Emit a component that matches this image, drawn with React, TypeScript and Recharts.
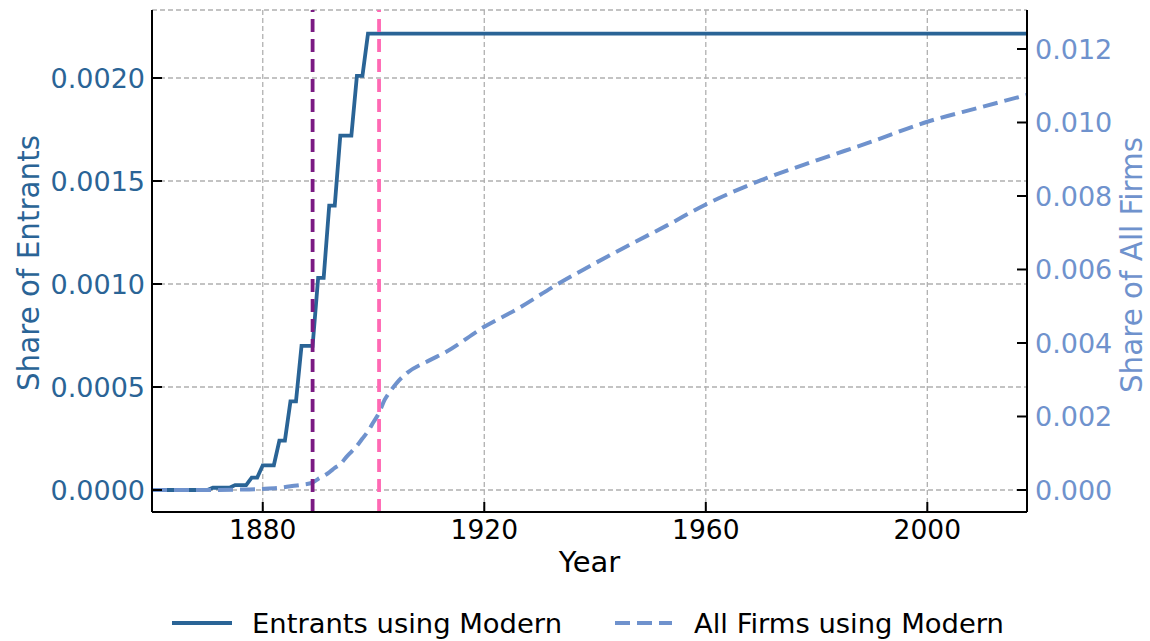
import { CartesianGrid, Legend, Line, LineChart, ReferenceLine, XAxis, YAxis } from "recharts";

const FONT = "DejaVu Sans, sans-serif";
const ENTRANT_COLOR = "#2a6496";
const FIRM_COLOR = "#6f92cd";

// step curve corners for entrants using modern
const ENTRANT_YEARS = [1860, 1870, 1871, 1874, 1875, 1877, 1878, 1879, 1880, 1882, 1883, 1884, 1885, 1886, 1887, 1889, 1890, 1891, 1892, 1893, 1894, 1896, 1897, 1898, 1899, 2018];
const ENTRANT_SHARE = [0, 0, 0.000011, 0.000011, 0.000024, 0.000024, 0.00006, 0.00006, 0.00012, 0.00012, 0.00024, 0.00024, 0.00043, 0.00043, 0.0007, 0.0007, 0.00103, 0.00103, 0.00138, 0.00138, 0.00172, 0.00172, 0.00201, 0.00201, 0.002215, 0.002215];

const FIRM_YEARS = [1860, 1870, 1875, 1880, 1883, 1885, 1887, 1889, 1890, 1891, 1892, 1893, 1894, 1895, 1896, 1897, 1898, 1899, 1900, 1901, 1902, 1903, 1904, 1906, 1910, 1913, 1920, 1926, 1933, 1940, 1947, 1953, 1960, 1970, 1980, 1990, 2000, 2009, 2018];
const FIRM_SHARE = [0, 0, 0.00001, 0.00003, 0.00006, 0.0001, 0.00014, 0.0002, 0.0003, 0.00038, 0.00048, 0.0006, 0.0007, 0.00088, 0.00104, 0.0012, 0.0014, 0.0016, 0.00185, 0.0021, 0.00245, 0.00268, 0.00288, 0.00318, 0.00352, 0.00375, 0.00444, 0.00493, 0.00558, 0.00617, 0.00673, 0.0072, 0.00777, 0.00843, 0.00897, 0.00948, 0.01002, 0.01039, 0.01075];

const X_TICKS = [1880, 1920, 1960, 2000];
const LEFT_TICKS = [0, 0.0005, 0.001, 0.0015, 0.002];
const RIGHT_TICKS = [0, 0.002, 0.004, 0.006, 0.008, 0.01, 0.012];
const EVENT_YEARS = [1889, 1901];
const EVENT_COLORS = ["#7b1a83", "#ff69b4"];

const entrants = ENTRANT_YEARS.map((year, i) => ({ year, share: ENTRANT_SHARE[i] }));
const firms = FIRM_YEARS.map((year, i) => ({ year, share: FIRM_SHARE[i] }));

function LegendBox() {
  return (
    <svg width={1150} height={50} style={{ display: "block" }}>
      <line x1={172} x2={232} y1={32} y2={32} stroke={ENTRANT_COLOR} strokeWidth={4} />
      <text x={252} y={42} fontSize={27.4} fontFamily={FONT} fill="#000">
        Entrants using Modern
      </text>
      <line x1={615} x2={672} y1={32} y2={32} stroke={FIRM_COLOR} strokeWidth={4} strokeDasharray="15 7" />
      <text x={694} y={42} fontSize={27.4} fontFamily={FONT} fill="#000">
        All Firms using Modern
      </text>
    </svg>
  );
}

export default function App() {
  return (
    <div style={{ position: "absolute", left: 0, top: 0, fontFamily: FONT }}>
      <LineChart width={1150} height={641} margin={{ top: 10, right: 0, bottom: 0, left: 0 }}>
        <CartesianGrid
          xAxisId="x"
          yAxisId="left"
          stroke="#b0b0b0"
          strokeWidth={1.3}
          strokeDasharray="5 3"
        />
        <XAxis
          xAxisId="x"
          dataKey="year"
          type="number"
          domain={[1860, 2018]}
          ticks={X_TICKS}
          allowDataOverflow
          height={79}
          tickSize={-10}
          tickMargin={18}
          axisLine={{ stroke: "#000", strokeWidth: 2 }}
          tickLine={{ stroke: "#000", strokeWidth: 2 }}
          tick={{ fill: "#000", fontSize: 26.5, fontFamily: FONT }}
          label={{
            content: (p: any) => (
              <text x={p.viewBox.x + p.viewBox.width / 2} y={572} textAnchor="middle" fontSize={29} fontFamily={FONT} fill="#000">
                Year
              </text>
            ),
          }}
        />
        <YAxis
          yAxisId="left"
          orientation="left"
          type="number"
          width={152}
          domain={[-0.0001068, 0.0023301]}
          ticks={LEFT_TICKS}
          allowDataOverflow
          tickFormatter={(v: number) => v.toFixed(4)}
          tickSize={-10}
          tickMargin={17}
          axisLine={{ stroke: "#000", strokeWidth: 2 }}
          tickLine={{ stroke: "#000", strokeWidth: 2 }}
          tick={{ fill: ENTRANT_COLOR, fontSize: 27, fontFamily: FONT }}
          label={{
            content: (p: any) => {
              const cy = p.viewBox.y + p.viewBox.height / 2 + 2;
              return (
                <text x={28} y={cy} dy="0.36em" transform={`rotate(-90 28 ${cy})`} textAnchor="middle" fontSize={29.4} fontFamily={FONT} fill={ENTRANT_COLOR}>
                  Share of Entrants
                </text>
              );
            },
          }}
        />
        <YAxis
          yAxisId="right"
          orientation="right"
          type="number"
          width={123}
          domain={[-0.000599, 0.013061]}
          ticks={RIGHT_TICKS}
          allowDataOverflow
          tickFormatter={(v: number) => v.toFixed(3)}
          tickSize={-10}
          tickMargin={18}
          axisLine={{ stroke: "#000", strokeWidth: 2 }}
          tickLine={{ stroke: "#000", strokeWidth: 2 }}
          tick={{ fill: FIRM_COLOR, fontSize: 27, fontFamily: FONT }}
          label={{
            content: (p: any) => {
              const cy = p.viewBox.y + p.viewBox.height / 2 + 4;
              return (
                <text x={1131} y={cy} dy="0.36em" transform={`rotate(-90 1131 ${cy})`} textAnchor="middle" fontSize={29.4} fontFamily={FONT} fill={FIRM_COLOR}>
                  Share of All Firms
                </text>
              );
            },
          }}
        />
        <Line
          xAxisId="x"
          yAxisId="left"
          data={entrants}
          dataKey="share"
          type="linear"
          stroke={ENTRANT_COLOR}
          strokeWidth={3.8}
          dot={false}
          isAnimationActive={false}
        />
        <Line
          xAxisId="x"
          yAxisId="right"
          data={firms}
          dataKey="share"
          type="monotone"
          stroke={FIRM_COLOR}
          strokeWidth={4}
          strokeDasharray="15 7"
          dot={false}
          isAnimationActive={false}
        />
        {EVENT_YEARS.map((yr, i) => (
          <ReferenceLine
            key={yr}
            xAxisId="x"
            yAxisId="left"
            x={yr}
            stroke={EVENT_COLORS[i]}
            strokeWidth={3.8}
            strokeDasharray="13 7"
          />
        ))}
        <Legend verticalAlign="bottom" wrapperStyle={{ left: 0, bottom: 0, width: 1150, height: 50 }} content={() => <LegendBox />} />
      </LineChart>
    </div>
  );
}
